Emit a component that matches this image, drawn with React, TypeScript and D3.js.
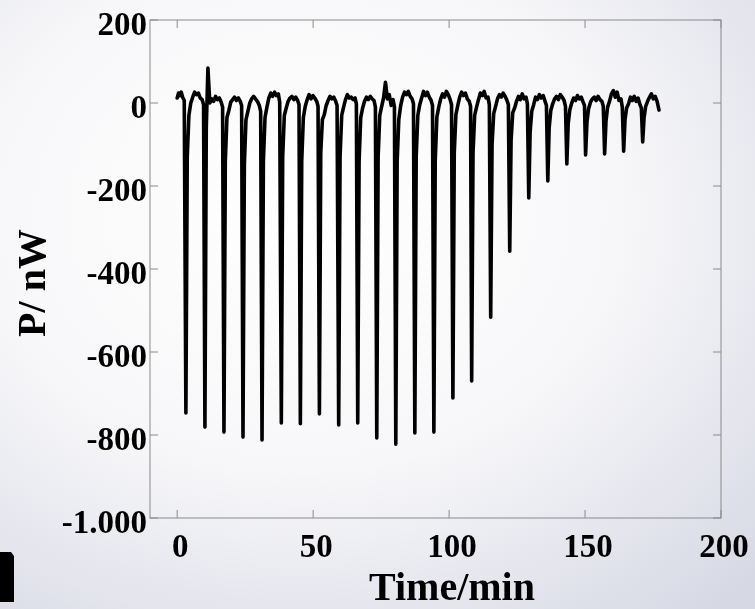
import React from 'react';
import * as d3 from 'd3';

// injection peaks (min, nW)
const spikeTimes = [3.2, 10.2, 17.2, 24.2, 31.2, 38.3, 45.3, 52.3, 59.4, 66.4, 73.4, 80.4, 87.4,
  94.4, 101.4, 108.3, 115.3, 122.3, 129.3, 136.3, 143.3, 150.2, 157.2, 164.2, 171.2];
const spikeMins = [-747, -781, -793, -805, -812, -771, -773, -749, -776, -771, -807, -822, -795,
  -793, -711, -670, -516, -357, -229, -188, -147, -125, -123, -116, -94];

// trace before the first injection
const leadIn = [[0, 12], [0.5, 24], [1.0, 18], [1.5, 26], [2.0, 14], [2.6, 6]];

// minutes after each peak where the trace below was read
const cycleOffsets = [0.5, 1.1, 1.8, 2.5, 3.2, 3.9, 4.6, 5.3, 6.0, 6.5];
const cycles = [
  [-130, -30, 0, 14, 26, 20, 24, 12, 8, -4],
  [-60, 84, 0, 10, 4, 16, 8, 12, 2, -10],
  [-140, -35, -18, 2, 8, 14, 6, 12, 4, -6],
  [-150, -40, -20, 0, 10, 16, 10, 4, -6, -20],
  [-140, -35, -10, 12, 24, 16, 26, 18, 22, 2],
  [-130, -30, -12, 4, 12, 16, 8, 14, 6, -4],
  [-140, -35, -8, 8, 20, 10, 18, 12, 4, -8],
  [-120, -40, -28, -6, 6, 16, 10, 14, 4, -6],
  [-130, -30, -10, 8, 20, 12, 14, 8, 12, -2],
  [-140, -35, -12, 4, 14, 8, 16, 10, 6, -10],
  [-130, -30, -8, 12, 50, 10, 20, -6, 8, -10],
  [-140, -40, -6, 14, 26, 20, 28, 16, 10, -2],
  [-130, -30, -4, 12, 28, 18, 26, 14, 6, -6],
  [-140, -34, -10, 10, 22, 14, 28, 20, 8, -4],
  [-120, -28, -6, 14, 26, 18, 24, 10, 4, -8],
  [-120, -30, -10, 8, 24, 18, 28, 12, 14, -4],
  [-100, -26, -8, 10, 20, 14, 24, 16, 6, -4],
  [-90, -24, -12, 4, 16, 8, 22, 10, 14, -2],
  [-70, -20, -4, 14, 8, 20, 12, 18, 4, -6],
  [-60, -18, -2, 10, 16, 8, 20, 14, 6, -8],
  [-50, -16, 0, 12, 6, 18, 10, 14, 2, -6],
  [-46, -14, 2, 10, 14, 6, 16, 8, 4, -8],
  [-44, -10, 4, 22, 30, 14, 26, 6, 10, -10],
  [-40, -12, -2, 14, 6, 16, 4, 12, -4, -12],
  [-36, -8, 4, 14, 22, 10, 16, 4, -17],
];

const xTicks = [0, 50, 100, 150, 200];
const yTicks = [200, 0, -200, -400, -600, -800, -1000];
const yTickLabels = ['200', '0', '-200', '-400', '-600', '-800', '-1.000'];

const W = 755, H = 609;
const font = '"Liberation Serif", "Times New Roman", serif';

export default function App() {
  const x = d3.scaleLinear().domain([-10, 200]).range([150, 721]);
  const y = d3.scaleLinear().domain([-1000, 200]).range([518, 20]);
  const [x0, x1] = x.range();
  const [y0, y1] = y.range();

  const trace: number[][] = [...leadIn];
  cycles.forEach((vals, i) => {
    trace.push([spikeTimes[i], spikeMins[i]]);
    vals.forEach((v, j) => trace.push([spikeTimes[i] + cycleOffsets[j], v]));
  });

  const line = d3.line<number[]>()
    .x(d => x(d[0]))
    .y(d => y(d[1]));

  const tl = 8;
  const axisColor = '#8a8a8a';

  return (
    <svg width={W} height={H} style={{ position: 'fixed', left: 0, top: 0 }}>
      <defs>
        <radialGradient id="bg" cx="40%" cy="35%" r="85%">
          <stop offset="0%" stopColor="#ffffff" />
          <stop offset="50%" stopColor="#f7f7f9" />
          <stop offset="100%" stopColor="#d6d8e4" />
        </radialGradient>
      </defs>
      <rect width={W} height={H} fill="url(#bg)" />

      {/* frame */}
      <rect x={x0} y={y1} width={x1 - x0} height={y0 - y1} fill="none" stroke={axisColor} strokeWidth={1} />

      {xTicks.map(t => (
        <g key={'x' + t}>
          <line x1={x(t)} x2={x(t)} y1={y0} y2={y0 - tl} stroke={axisColor} />
          <line x1={x(t)} x2={x(t)} y1={y1} y2={y1 + tl} stroke={axisColor} />
          <text x={x(t) + 3} y={557} textAnchor="middle" fontFamily={font} fontWeight="bold"
            fontSize={33}>{t}</text>
        </g>
      ))}
      {yTicks.map((t, i) => (
        <g key={'y' + t}>
          <line x1={x0} x2={x0 + tl} y1={y(t)} y2={y(t)} stroke={axisColor} />
          <line x1={x1} x2={x1 - tl} y1={y(t)} y2={y(t)} stroke={axisColor} />
          <text x={147} y={y(t) + 15} textAnchor="end" fontFamily={font} fontWeight="bold"
            fontSize={33}>{yTickLabels[i]}</text>
        </g>
      ))}

      <path d={line(trace) || ''} fill="none" stroke="#000" strokeWidth={3.6}
        strokeLinejoin="round" strokeLinecap="round" />

      <text transform="translate(45,283) rotate(-90)" textAnchor="middle" fontFamily={font}
        fontWeight="bold" fontSize={40}>P/ nW</text>
      <text x={452} y={600} textAnchor="middle" fontFamily={font} fontWeight="bold"
        fontSize={40}>Time/min</text>

      {/* fragment of a slide letter at the lower left */}
      <path d="M0,552 L11,552 L14,556 L14,602 L0,602 Z" fill="#000" />
    </svg>
  );
}
